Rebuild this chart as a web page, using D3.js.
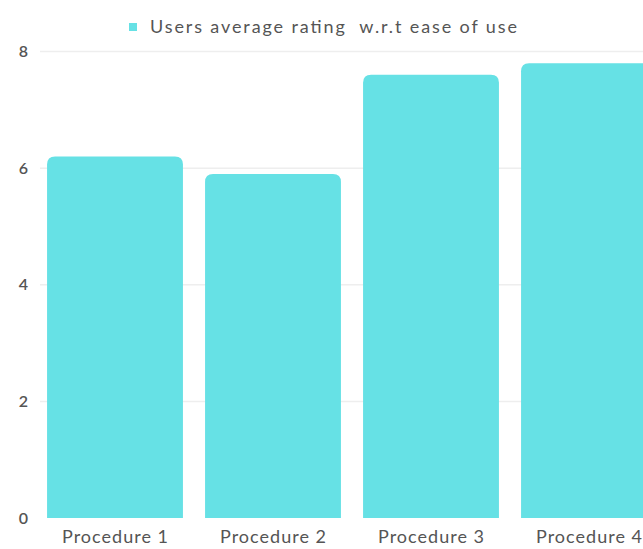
<!DOCTYPE html>
<html><head><meta charset="utf-8">
<script src="https://cdn.jsdelivr.net/npm/d3@7"></script>
<style>html,body{margin:0;padding:0;background:#fff;overflow:hidden;width:643px;height:549px}</style>
</head><body>
<svg id="c" width="700" height="549"></svg>
<script>
const categories = ["Procedure 1", "Procedure 2", "Procedure 3", "Procedure 4"];
const seriesName = "Users average rating  w.r.t ease of use";
const values = [6.2, 5.9, 7.6, 7.8];
const yTicks = [0, 2, 4, 6, 8];

const svg = d3.select("#c");
const font = "Lato, 'Open Sans', sans-serif";
const color = "#66e1e5";

const x = d3.scaleBand().domain(categories).range([36, 668]).paddingInner(0.14).paddingOuter(0.07);
const y = d3.scaleLinear().domain([0, 8]).range([518, 51.5]);

// grid
svg.append("g").selectAll("line").data(yTicks.slice(1)).join("line")
  .attr("x1", 40).attr("x2", 700)
  .attr("y1", d => y(d)).attr("y2", d => y(d))
  .attr("stroke", "#eeeeee").attr("stroke-width", 1.5);

// y axis
const yAxis = d3.axisLeft(y).tickValues(yTicks).tickSize(0).tickPadding(0);
const gy = svg.append("g").attr("transform", "translate(28,0)").call(yAxis);
gy.select(".domain").remove();
gy.selectAll("text").attr("font-family", font).attr("font-size", 16).attr("fill", "#555").attr("font-weight", 600);

// bars with rounded top
const r = 8;
function barPath(d, i) {
  const x0 = x(categories[i]), w = x.bandwidth(), y0 = y(d), y1 = y(0);
  return `M${x0},${y1}V${y0 + r}Q${x0},${y0} ${x0 + r},${y0}H${x0 + w - r}Q${x0 + w},${y0} ${x0 + w},${y0 + r}V${y1}Z`;
}
svg.append("g").selectAll("path").data(values).join("path")
  .attr("d", barPath).attr("fill", color);

// x axis
const xAxis = d3.axisBottom(x).tickSize(0).tickPadding(12);
const gx = svg.append("g").attr("transform", `translate(0,${y(0)})`).call(xAxis);
gx.select(".domain").remove();
gx.selectAll("text").attr("font-family", font).attr("font-size", 18).attr("fill", "#555")
  .attr("textLength", 106).attr("lengthAdjust", "spacing");

// legend
const lg = svg.append("g");
lg.append("rect").attr("x", 129).attr("y", 23).attr("width", 8).attr("height", 8).attr("fill", color);
lg.append("text").attr("x", 150).attr("y", 27).attr("dy", "0.35em")
  .attr("font-family", font).attr("font-size", 18).attr("fill", "#555")
  .attr("textLength", 367).attr("lengthAdjust", "spacing")
  .style("white-space", "pre").text(seriesName);
</script>
</body></html>
